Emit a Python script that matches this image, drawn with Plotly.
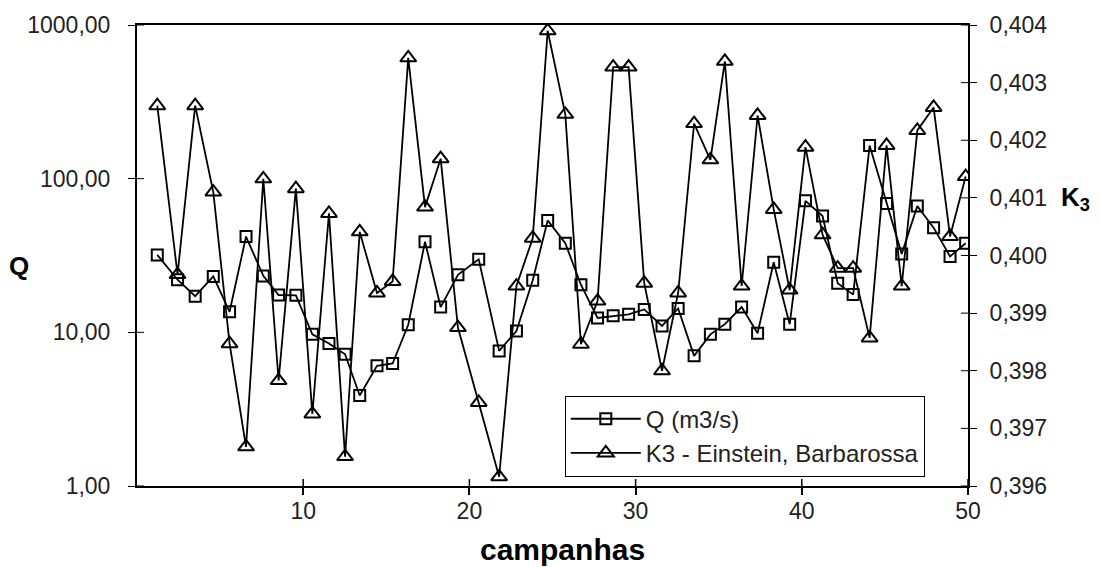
import plotly.graph_objects as go
import math

# Campaign positions (x) and measured series
campanha = [1.22, 2.44, 3.50, 4.59, 5.57, 6.56, 7.60, 8.52, 9.56, 10.55,
            11.55, 12.52, 13.40, 14.44, 15.38, 16.32, 17.33, 18.27, 19.31, 20.56,
            21.79, 22.83, 23.81, 24.71, 25.77, 26.71, 27.71, 28.65, 29.58, 30.52,
            31.59, 32.56, 33.52, 34.50, 35.37, 36.38, 37.34, 38.31, 39.27, 40.22,
            41.25, 42.16, 43.09, 44.08, 45.10, 46.01, 46.95, 47.93, 48.92, 49.86]

q_m3s = [31.9, 22.0, 17.2, 23.1, 13.6, 42.0, 23.3, 17.5, 17.4, 9.7,
         8.45, 7.2, 3.88, 6.06, 6.27, 11.2, 38.9, 14.6, 23.7, 29.9,
         7.57, 10.2, 21.8, 53.5, 38.0, 20.4, 12.4, 12.8, 13.1, 14.1,
         11.0, 14.3, 7.03, 9.7, 11.3, 14.6, 9.86, 28.6, 11.3, 71.7,
         57.1, 20.9, 17.6, 164.3, 68.9, 32.4, 66.3, 48.0, 31.2, 38.0]

k3_einstein = [0.40260, 0.39967, 0.40260, 0.40110, 0.39847, 0.39668, 0.40133, 0.39783, 0.40116, 0.39725,
               0.40073, 0.39651, 0.40041, 0.39935, 0.39955, 0.40343, 0.40084, 0.40168, 0.39875, 0.39745,
               0.39616, 0.39947, 0.40030, 0.40390, 0.40245, 0.39846, 0.39921, 0.40327, 0.40327, 0.39952,
               0.39800, 0.39935, 0.40229, 0.40166, 0.40337, 0.39947, 0.40243, 0.40080, 0.39940, 0.40188,
               0.40036, 0.39978, 0.39978, 0.39857, 0.40191, 0.39947, 0.40217, 0.40257, 0.40033, 0.40137]

x_ticks = [10, 20, 30, 40, 50]
q_ticks = [1, 10, 100, 1000]
k3_ticks = [0.396, 0.397, 0.398, 0.399, 0.400, 0.401, 0.402, 0.403, 0.404]

FONT = "Arial, 'Liberation Sans', sans-serif"
INK = "black"

fig = go.Figure()
fig.add_trace(go.Scatter(
    x=campanha, y=q_m3s, name="Q (m3/s)", mode="lines+markers",
    line=dict(color=INK, width=1.8),
    marker=dict(symbol="square-open", size=11, color=INK, line=dict(width=2, color=INK)),
    legendgroup="q",
))
fig.add_trace(go.Scatter(
    x=campanha, y=k3_einstein, name="K3 - Einstein, Barbarossa", mode="lines+markers",
    yaxis="y2",
    line=dict(color=INK, width=1.8),
    marker=dict(symbol="triangle-up-open", size=14, color=INK, line=dict(width=2, color=INK)),
    legendgroup="k3",
))

tick_font = dict(family=FONT, size=23, color="#222")

fig.update_layout(
    width=1101, height=567,
    margin=dict(l=137, r=133, t=22, b=81),
    paper_bgcolor="white", plot_bgcolor="white",
    separators=",.",
    font=dict(family=FONT, color=INK),
    showlegend=True,
    legend=dict(
        x=0.5148, y=0.196, xanchor="left", yanchor="top",
        bgcolor="white", bordercolor=INK, borderwidth=1,
        font=dict(family=FONT, size=24, color="#222"),
        tracegroupgap=0, itemwidth=70,
    ),
    xaxis=dict(
        range=[0, 50], tickvals=x_ticks, ticks="outside", ticklen=7, tickwidth=1.5,
        tickcolor=INK, showline=True, linecolor=INK, linewidth=2, mirror=True,
        showgrid=False, zeroline=False, tickfont=tick_font, ticklabelstandoff=-4,
    ),
    yaxis=dict(
        type="log", range=[0, 3], tickvals=q_ticks, tickformat=".2f",
        ticks="outside", ticklen=7, tickwidth=1, tickcolor=INK,
        showline=True, linecolor=INK, linewidth=2, mirror=True,
        showgrid=False, zeroline=False, tickfont=tick_font, ticklabelstandoff=13,
    ),
    yaxis2=dict(
        overlaying="y", side="right", range=[0.396, 0.404], tickvals=k3_ticks,
        tickformat=".3f", ticks="outside", ticklen=7, tickwidth=1, tickcolor=INK,
        showline=True, linecolor=INK, linewidth=2,
        showgrid=False, zeroline=False, tickfont=tick_font, ticklabelstandoff=8,
    ),
)

# Inner halves of the crossing tick marks
shapes = []
for v in x_ticks:
    shapes.append(dict(type="line", xref="x", yref="paper", x0=v, x1=v, y0=0, y1=0.015,
                       line=dict(color=INK, width=1.5)))
for v in q_ticks:
    f = math.log10(v) / 3
    shapes.append(dict(type="line", xref="paper", yref="y domain", x0=0, x1=0.0084, y0=f, y1=f,
                       line=dict(color=INK, width=1)))
for v in k3_ticks:
    shapes.append(dict(type="line", xref="paper", yref="y2", x0=1 - 0.0084, x1=1, y0=v, y1=v,
                       line=dict(color=INK, width=1)))
fig.update_layout(shapes=shapes)

# Axis titles
fig.add_annotation(text="<b>campanhas</b>", xref="paper", yref="paper", x=0.5123, y=-0.138,
                   xanchor="center", yanchor="middle",
                   showarrow=False, font=dict(family=FONT, size=30, color=INK))
fig.add_annotation(text="<b>Q</b>", xref="paper", yref="paper", x=-0.1415, y=0.478,
                   xanchor="center", yanchor="middle",
                   showarrow=False, font=dict(family=FONT, size=26, color=INK))
fig.add_annotation(text="<b>K<sub>3</sub></b>", xref="paper", yref="paper", x=1.1288, y=0.623,
                   xanchor="center", yanchor="middle",
                   showarrow=False, font=dict(family=FONT, size=26, color=INK))

fig.write_html("out.html")
